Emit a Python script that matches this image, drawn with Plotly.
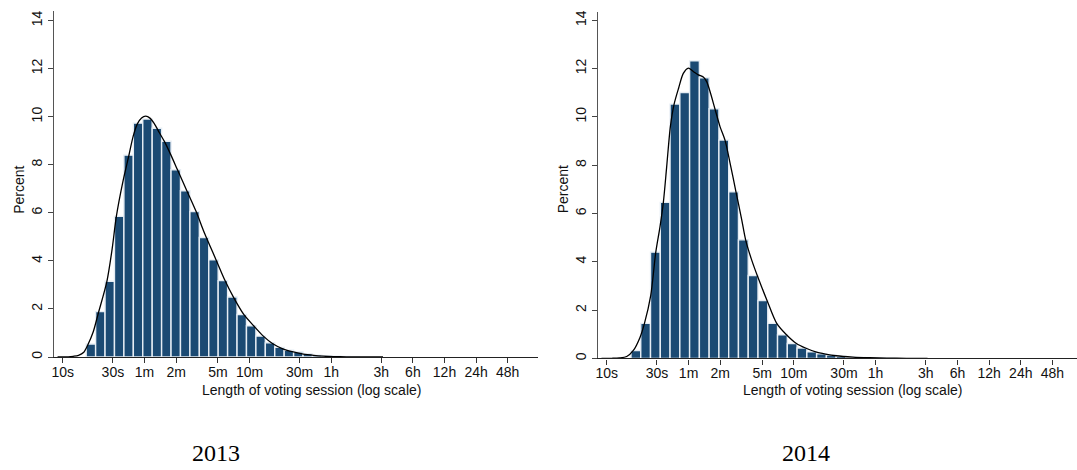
import numpy as np
import plotly.graph_objects as go

W, H = 1077, 470

# ---------------- data ----------------
tick_seconds = [10, 30, 60, 120, 300, 600, 1800, 3600, 10800, 21600, 43200, 86400, 172800]
tick_labels = ["10s", "30s", "1m", "2m", "5m", "10m", "30m", "1h", "3h", "6h", "12h", "24h", "48h"]
y_ticks = [0, 2, 4, 6, 8, 10, 12, 14]

# histogram bins (log10 of seconds): first edge in seconds, bin width in decades
bin_start_sec_2013 = 16.7
bin_width_dec_2013 = 0.0898
pct_2013 = [0.54, 1.89, 3.15, 5.85, 8.40, 9.73, 9.90, 9.52, 8.98, 7.79, 6.92, 6.05,
            4.97, 4.04, 3.18, 2.50, 1.77, 1.30, 0.87, 0.59, 0.40, 0.28, 0.21, 0.13,
            0.08, 0.05, 0.03, 0.02, 0.01]

bin_start_sec_2014 = 17.0
bin_width_dec_2014 = 0.0929
pct_2014 = [0.33, 1.45, 4.40, 6.46, 10.53, 11.01, 12.32, 11.62, 10.34, 9.04, 6.90, 4.91,
            3.43, 2.40, 1.45, 0.98, 0.62, 0.43, 0.27, 0.19, 0.14, 0.09, 0.06, 0.04,
            0.03, 0.02, 0.01]

# kernel density curves (log10 seconds, percent)
kde_log_2013 = [0.95, 1.05, 1.10, 1.15, 1.20, 1.24, 1.29, 1.34, 1.42, 1.47, 1.51, 1.57,
                1.63, 1.67, 1.71, 1.75, 1.79, 1.83, 1.87, 1.92, 1.97, 2.03, 2.09, 2.18,
                2.27, 2.35, 2.46, 2.545, 2.625, 2.725, 2.82, 2.91, 3.00, 3.10, 3.195,
                3.29, 3.39, 3.48, 3.58, 3.70, 3.85, 4.05]
kde_pct_2013 = [0.0, 0.01, 0.03, 0.07, 0.20, 0.52, 1.05, 1.85, 3.15, 4.50, 5.85, 7.25,
                8.40, 9.18, 9.70, 9.95, 10.02, 9.94, 9.72, 9.33, 8.95, 8.40, 7.81, 6.93,
                6.05, 5.15, 4.04, 3.18, 2.49, 1.76, 1.29, 0.87, 0.55, 0.33, 0.21,
                0.12, 0.07, 0.04, 0.02, 0.01, 0.005, 0.0]

kde_log_2014 = [0.95, 1.05, 1.12, 1.19, 1.253, 1.317, 1.358, 1.418, 1.466, 1.507, 1.538,
                1.570, 1.605, 1.640, 1.684, 1.728, 1.776, 1.823, 1.871, 1.918, 1.951,
                1.982, 2.029, 2.077, 2.125, 2.172, 2.229, 2.283, 2.321, 2.376, 2.432,
                2.524, 2.616, 2.711, 2.803, 2.895, 2.987, 3.08, 3.18, 3.34, 3.50, 3.66,
                3.85, 4.05]
kde_pct_2014 = [0.0, 0.005, 0.02, 0.08, 0.33, 0.88, 1.44, 2.60, 4.39, 5.47, 6.45,
                7.94, 9.60, 10.52, 11.20, 11.80, 12.02, 11.88, 11.74, 11.65, 11.45,
                11.05, 10.33, 9.60, 9.03, 8.10, 6.89, 5.75, 4.90, 4.10, 3.42,
                2.40, 1.45, 0.97, 0.62, 0.42, 0.27, 0.18, 0.11, 0.055, 0.03, 0.015,
                0.005, 0.0]

# ---------------- figure ----------------
BAR_COLOR = "#1b4a73"
FONT = "Liberation Sans, Arial, Helvetica, sans-serif"


def px_x(p):
    return p / W


def px_y(p):
    return 1 - p / H


def centers(start_sec, width, n):
    return [np.log10(start_sec) + (k + 0.5) * width for k in range(n)]


fig = go.Figure()

panels = [
    (pct_2013, bin_start_sec_2013, bin_width_dec_2013, kde_log_2013, kde_pct_2013, "x", "y"),
    (pct_2014, bin_start_sec_2014, bin_width_dec_2014, kde_log_2014, kde_pct_2014, "x2", "y2"),
]
for pct, st, bw, klog, kpct, xa, ya in panels:
    fig.add_trace(go.Bar(
        x=centers(st, bw, len(pct)), y=pct, width=bw,
        marker=dict(color=BAR_COLOR, line=dict(color="#e6edf4", width=1.4)),
        xaxis=xa, yaxis=ya, showlegend=False, hoverinfo="skip"))
    fig.add_trace(go.Scatter(
        x=klog, y=kpct, mode="lines",
        line=dict(color="black", width=1.3, shape="spline", smoothing=0.8),
        xaxis=xa, yaxis=ya, showlegend=False, hoverinfo="skip"))

tickvals = [float(np.log10(s)) for s in tick_seconds]

xcommon = dict(tickmode="array", tickvals=tickvals, ticktext=tick_labels,
               ticks="outside", ticklen=5, tickwidth=1, tickcolor="#333",
               ticklabelstandoff=-3,
               showline=True, linecolor="#222", linewidth=1.3,
               showgrid=False, zeroline=False,
               tickfont=dict(family=FONT, size=14, color="#111"))
ycommon = dict(tickmode="array", tickvals=y_ticks, tickangle=-90,
               ticks="outside", ticklen=5, tickwidth=1, tickcolor="#444",
               showline=True, linecolor="#555", linewidth=1.3,
               showgrid=False, zeroline=False,
               tickfont=dict(family=FONT, size=14, color="#111"))

fig.update_layout(
    width=W, height=H,
    margin=dict(l=0, r=0, t=0, b=0),
    paper_bgcolor="white", plot_bgcolor="white",
    barmode="overlay",
    xaxis=dict(domain=[px_x(48), px_x(538)], range=[0.859, 5.526], anchor="y", **xcommon),
    yaxis=dict(domain=[px_y(358.3), px_y(10)], range=[0, 14.40], anchor="free",
               position=px_x(53), **ycommon),
    xaxis2=dict(domain=[px_x(591.7), 1.0], range=[0.857, 5.471], anchor="y2", **xcommon),
    yaxis2=dict(domain=[px_y(359.7), px_y(10.7)], range=[0, 14.36], anchor="free",
                position=px_x(596.7), **ycommon),
)

annotations = [
    dict(text="Length of voting session (log scale)", x=px_x(311), y=px_y(391),
         font=dict(family=FONT, size=14, color="#111")),
    dict(text="Length of voting session (log scale)", x=px_x(852), y=px_y(391),
         font=dict(family=FONT, size=14, color="#111")),
    dict(text="Percent", x=px_x(19), y=px_y(190), textangle=-90,
         font=dict(family=FONT, size=14, color="#111")),
    dict(text="Percent", x=px_x(562.5), y=px_y(190), textangle=-90,
         font=dict(family=FONT, size=14, color="#111")),
    dict(text="2013", x=px_x(216), y=px_y(455),
         font=dict(family="Liberation Serif, Times New Roman, serif", size=24, color="black")),
    dict(text="2014", x=px_x(806), y=px_y(455),
         font=dict(family="Liberation Serif, Times New Roman, serif", size=24, color="black")),
]
for a in annotations:
    fig.add_annotation(xref="paper", yref="paper", showarrow=False,
                       xanchor="center", yanchor="middle", **a)

fig.write_html("out.html")
